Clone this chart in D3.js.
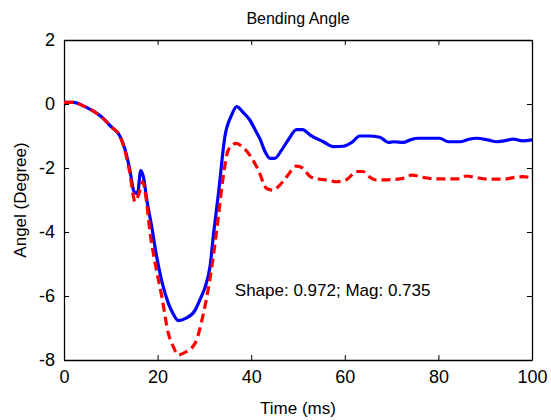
<html>
<head>
<meta charset="utf-8">
<script src="https://d3js.org/d3.v7.min.js"></script>
<style>
    body { margin: 0; background: #fff; }
    text { font-family: "Liberation Sans", Arial, sans-serif; fill: #000; }
</style>
</head>

<body>
    <script>
        var width = 551;
        var height = 420;

        // time (ms) and angle (degree)
        var blueT = [0, 2, 4, 6, 8, 10, 12, 13, 14, 15, 15.7, 16.4, 17, 17.7, 18.7, 19.8, 21, 22.3, 23.3, 24.4, 26, 28, 29.1, 30.2, 31.2, 32, 33, 34.4, 35.8, 36.9, 38.2, 39.7, 41, 41.9, 43, 44, 45, 46.5, 48, 49.7, 51, 52.6, 55.4, 57.5, 59.7, 61.5, 63.2, 65, 67.5, 69.3, 70.5, 72.5, 74, 75.7, 78, 80.3, 82.1, 84.6, 86.5, 88.2, 90.5, 92.5, 94, 96, 98, 100];
        var blueV = [0.05, 0.05, -0.05, -0.2, -0.4, -0.7, -1.02, -1.4, -2.0, -2.75, -2.8, -2.08, -2.3, -3.0, -3.8, -4.77, -5.6, -6.23, -6.55, -6.77, -6.7, -6.45, -6.1, -5.7, -5.08, -4.0, -2.8, -1.0, -0.35, -0.08, -0.25, -0.5, -0.85, -1.1, -1.5, -1.7, -1.7, -1.44, -1.1, -0.8, -0.8, -0.97, -1.18, -1.33, -1.32, -1.2, -1.0, -1.0, -1.04, -1.2, -1.18, -1.2, -1.12, -1.07, -1.07, -1.07, -1.18, -1.18, -1.1, -1.07, -1.12, -1.18, -1.15, -1.1, -1.15, -1.12];

        var redT = [0, 2, 4, 6, 8, 10, 12, 13, 14, 15.2, 16, 16.8, 17.5, 18.4, 19.5, 20.9, 22.3, 23.4, 24.4, 26, 28, 29.8, 31.6, 33, 34, 35.1, 36.8, 38.2, 39.7, 41.5, 43.3, 44.7, 46, 47.6, 49.7, 51, 52.6, 54.5, 56.1, 58.3, 60.5, 62.5, 63.9, 65, 66.5, 68, 71.8, 73, 74.3, 77, 79.6, 82, 84.6, 86, 88, 91, 93.9, 96, 98.1, 100];
        var redV = [0.05, 0.05, -0.05, -0.2, -0.4, -0.7, -1.02, -1.45, -2.1, -3.05, -2.8, -2.43, -2.9, -4.04, -5.0, -6.02, -7.17, -7.6, -7.84, -7.75, -7.48, -6.54, -5.08, -3.5, -2.3, -1.44, -1.23, -1.35, -1.6, -2.06, -2.64, -2.69, -2.55, -2.27, -1.94, -2.0, -2.27, -2.35, -2.37, -2.43, -2.35, -2.11, -2.11, -2.25, -2.37, -2.37, -2.34, -2.3, -2.22, -2.3, -2.34, -2.34, -2.34, -2.25, -2.3, -2.35, -2.35, -2.3, -2.27, -2.32];

        var xTicks = [0, 20, 40, 60, 80, 100];
        var yTicks = [2, 0, -2, -4, -6, -8];
        var titleText = "Bending Angle";
        var xLabel = "Time (ms)";
        var yLabel = "Angel (Degree)";
        var note = "Shape: 0.972; Mag: 0.735";

        // plot box (window.top is read-only, so no "top" here)
        var boxL = 64, boxR = 532, boxT = 40, boxB = 360;

        var svg = d3.select("body").append("svg")
            .attr("width", width)
            .attr("height", height);

        var x = d3.scaleLinear().domain([0, 100]).range([boxL, boxR]);
        var y = d3.scaleLinear().domain([-8, 2]).range([boxB, boxT]);

        // plain hyphen minus, like the original
        var fmt = d => String(d);

        // axes, ticks pointing inward on all four sides
        svg.append("g")
            .attr("transform", `translate(0,${boxB})`)
            .call(d3.axisBottom(x).tickValues(xTicks).tickFormat(fmt).tickSizeInner(-5).tickSizeOuter(0).tickPadding(10))
            .call(g => g.selectAll("text").attr("font-size", 18).attr("dy", "0.71em"));
        svg.append("g")
            .attr("transform", `translate(0,${boxT})`)
            .call(d3.axisTop(x).tickValues(xTicks).tickSizeInner(-5).tickSizeOuter(0).tickFormat(""));
        svg.append("g")
            .attr("transform", `translate(${boxL},0)`)
            .call(d3.axisLeft(y).tickValues(yTicks).tickFormat(fmt).tickSizeInner(-5).tickSizeOuter(0).tickPadding(9))
            .call(g => g.selectAll("text").attr("font-size", 18));
        svg.append("g")
            .attr("transform", `translate(${boxR},0)`)
            .call(d3.axisRight(y).tickValues(yTicks).tickSizeInner(-5).tickSizeOuter(0).tickFormat(""));

        svg.selectAll(".domain").attr("stroke", "#000").attr("stroke-width", 1.3);
        svg.selectAll(".tick line").attr("stroke", "#000");
        svg.selectAll(".tick text").attr("font-family", "Liberation Sans, Arial, sans-serif").attr("fill", "#000");

        var line = d3.line().x(d => x(d[0])).y(d => y(d[1])).curve(d3.curveMonotoneX);

        svg.append("defs").append("clipPath").attr("id", "clip")
            .append("rect").attr("x", boxL).attr("y", boxT).attr("width", boxR - boxL).attr("height", boxB - boxT);

        svg.append("path")
            .datum(blueT.map((t, i) => [t, blueV[i]]))
            .attr("clip-path", "url(#clip)")
            .attr("fill", "none")
            .attr("stroke", "#0000ff")
            .attr("stroke-width", 3.2)
            .attr("stroke-linejoin", "round")
            .attr("d", line);

        svg.append("path")
            .datum(redT.map((t, i) => [t, redV[i]]))
            .attr("clip-path", "url(#clip)")
            .attr("fill", "none")
            .attr("stroke", "#ff0000")
            .attr("stroke-width", 3.2)
            .attr("stroke-dasharray", "9,5")
            .attr("d", line);

        svg.append("text")
            .attr("x", (boxL + boxR) / 2)
            .attr("y", 24)
            .attr("text-anchor", "middle")
            .attr("font-size", 16)
            .text(titleText);

        svg.append("text")
            .attr("x", (boxL + boxR) / 2)
            .attr("y", 414)
            .attr("text-anchor", "middle")
            .attr("font-size", 17)
            .text(xLabel);

        svg.append("text")
            .attr("transform", `translate(26,${(boxT + boxB) / 2}) rotate(-90)`)
            .attr("text-anchor", "middle")
            .attr("font-size", 17)
            .text(yLabel);

        svg.append("text")
            .attr("x", x(36.5))
            .attr("y", y(-5.8) + 6)
            .attr("font-size", 17)
            .text(note);
    </script>
</body>

</html>
